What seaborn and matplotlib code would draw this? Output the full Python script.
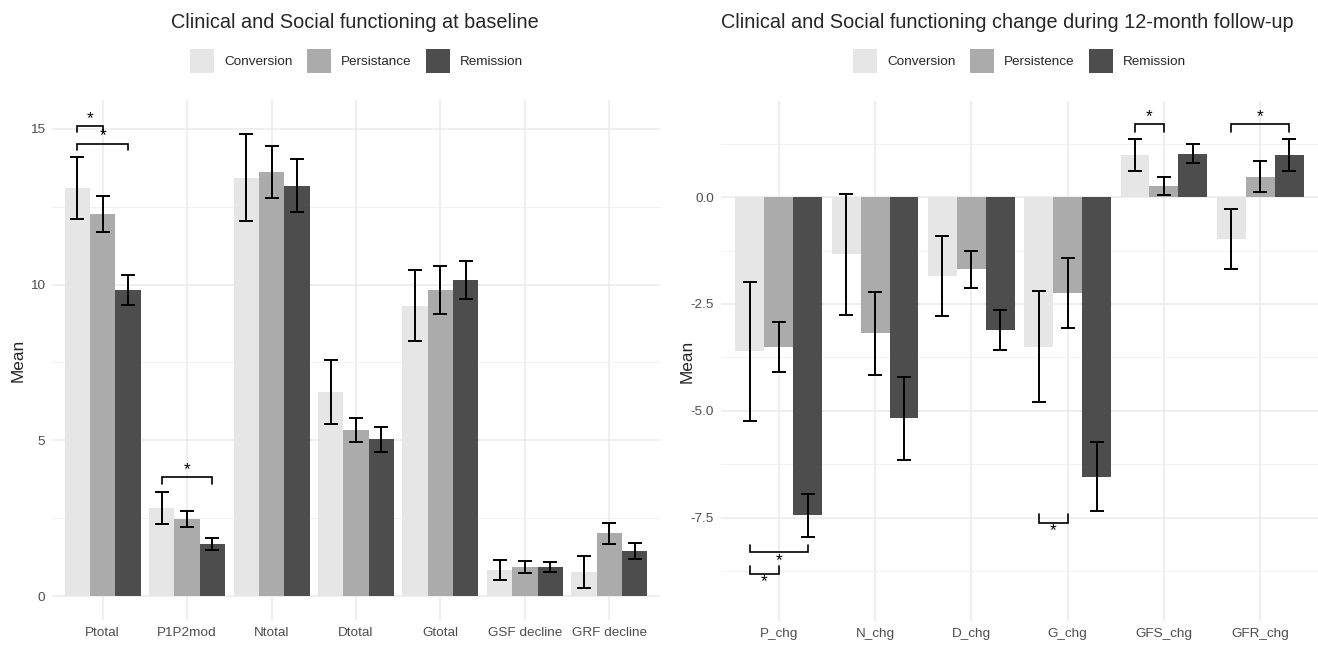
import pandas as pd
import matplotlib
matplotlib.use("Agg")
import matplotlib.pyplot as plt
from matplotlib.patches import Patch
import seaborn as sns

# baseline panel
base_cats = ["Ptotal", "P1P2mod", "Ntotal", "Dtotal", "Gtotal", "GSF decline", "GRF decline"]
base_groups = ["Conversion", "Persistance", "Remission"]
base_conv = [13.1, 2.83, 13.43, 6.54, 9.33, 0.85, 0.77]
base_conv_err = [1.0, 0.52, 1.4, 1.03, 1.15, 0.32, 0.52]
base_pers = [12.28, 2.48, 13.61, 5.33, 9.83, 0.93, 2.01]
base_pers_err = [0.58, 0.26, 0.84, 0.39, 0.77, 0.18, 0.33]
base_rem = [9.84, 1.67, 13.17, 5.04, 10.15, 0.93, 1.45]
base_rem_err = [0.48, 0.2, 0.85, 0.4, 0.62, 0.16, 0.26]
# (category, group a, group b, bracket y, tip length)
base_sig = [(0, 0, 1, 15.1, -0.2), (0, 0, 2, 14.53, -0.22), (1, 0, 2, 3.82, -0.22)]

# change panel
chg_cats = ["P_chg", "N_chg", "D_chg", "G_chg", "GFS_chg", "GFR_chg"]
chg_groups = ["Conversion", "Persistence", "Remission"]
chg_conv = [-3.61, -1.34, -1.84, -3.5, 0.99, -0.98]
chg_conv_err = [1.62, 1.41, 0.94, 1.3, 0.38, 0.7]
chg_pers = [-3.51, -3.19, -1.69, -2.25, 0.25, 0.48]
chg_pers_err = [0.59, 0.97, 0.44, 0.82, 0.21, 0.36]
chg_rem = [-7.45, -5.18, -3.11, -6.54, 1.02, 0.99]
chg_rem_err = [0.5, 0.98, 0.46, 0.8, 0.22, 0.37]
chg_sig = [(0, 0, 2, -8.31, 0.18), (0, 0, 1, -8.81, 0.18), (3, 0, 1, -7.62, 0.2),
           (4, 0, 1, 1.72, -0.2), (5, 0, 2, 1.72, -0.2)]

colors = ["#E6E6E6", "#ABABAB", "#4D4D4D"]
W, H = 1318, 646


def build_frame(cats, groups, means, errs):
    rows = []
    for g, vals, ers in zip(groups, means, errs):
        for c, v, e in zip(cats, vals, ers):
            rows.append({"var": c, "group": g, "mean": v, "err": e})
    return pd.DataFrame(rows)


def draw_panel(ax, df, cats, groups, sig, ylim, yticks, yticklabels, minor):
    sns.barplot(data=df, x="var", y="mean", hue="group", order=cats, hue_order=groups,
                palette=colors, errorbar=None, width=0.9, gap=0, saturation=1,
                linewidth=0, ax=ax, legend=False)

    # error bars on the bar centres
    bar_conts = list(ax.containers)
    centers = {}
    for gi, cont in enumerate(bar_conts):
        sub = df[df["group"] == groups[gi]].set_index("var").loc[cats]
        xs = [b.get_x() + b.get_width() / 2 for b in cont]
        for ci, x in enumerate(xs):
            centers[(ci, gi)] = x
        ax.errorbar(xs, sub["mean"].values, yerr=sub["err"].values, fmt="none",
                    ecolor="black", elinewidth=1.4, capsize=5.3, capthick=1.4, zorder=5)

    # significance brackets
    for ci, a, b, y, tip in sig:
        x1, x2 = centers[(ci, a)], centers[(ci, b)]
        ax.plot([x1, x1, x2, x2], [y + tip, y, y, y + tip], color="black", lw=1.2,
                solid_joinstyle="miter", zorder=6)
        va = "bottom" if tip < 0 else "top"
        off = 0.0 if tip < 0 else -0.02
        ax.text((x1 + x2) / 2, y + off, "*", ha="center", va=va, fontsize=12.5,
                color="black", zorder=6)

    ax.set_xlim(-0.6, len(cats) - 0.4)
    ax.set_ylim(*ylim)
    ax.set_yticks(yticks)
    ax.set_yticklabels(yticklabels)
    ax.set_yticks(minor, minor=True)
    ax.set_xlabel("")
    ax.set_ylabel("Mean", fontsize=12.4)
    ax.yaxis.set_label_coords(-0.044, 0.5)
    ax.set_axisbelow(True)
    ax.grid(which="major", color="#EBEBEB", lw=1.1)
    ax.grid(which="minor", axis="y", color="#F2F2F2", lw=0.7)
    ax.tick_params(which="both", length=0, labelsize=9.7, labelcolor="#4D4D4D", pad=5)
    for s in ax.spines.values():
        s.set_visible(False)


sns.set_theme(style="white")
plt.rcParams["font.family"] = ["Liberation Sans", "DejaVu Sans"]

fig = plt.figure(figsize=(W / 100, H / 100), dpi=100)
ax1 = fig.add_axes([52 / W, 1 - 620 / H, 608 / W, 520 / H])
ax2 = fig.add_axes([721 / W, 1 - 621 / H, 597 / W, 520 / H])

df1 = build_frame(base_cats, base_groups, [base_conv, base_pers, base_rem],
                  [base_conv_err, base_pers_err, base_rem_err])
df2 = build_frame(chg_cats, chg_groups, [chg_conv, chg_pers, chg_rem],
                  [chg_conv_err, chg_pers_err, chg_rem_err])

draw_panel(ax1, df1, base_cats, base_groups, base_sig, (-0.77, 15.93),
           [0, 5, 10, 15], ["0", "5", "10", "15"], [2.5, 7.5, 12.5])
draw_panel(ax2, df2, chg_cats, chg_groups, chg_sig, (-9.92, 2.25),
           [-7.5, -5.0, -2.5, 0.0], ["-7.5", "-5.0", "-2.5", "0.0"],
           [-8.75, -6.25, -3.75, -1.25, 1.25])

# titles and legends
fig.text(355 / W, 1 - 22 / H, "Clinical and Social functioning at baseline",
         ha="center", va="center", fontsize=14.3)
fig.text(1007 / W, 1 - 22 / H, "Clinical and Social functioning change during 12-month follow-up",
         ha="center", va="center", fontsize=14.3)

for ax, groups, cx in [(ax1, base_groups, 356.5), (ax2, chg_groups, 1019.5)]:
    handles = [Patch(facecolor=c, edgecolor="none") for c in colors]
    ax.legend(handles, groups, loc="center", bbox_to_anchor=(cx / W, 1 - 61 / H),
              bbox_transform=fig.transFigure, ncol=3, frameon=False, fontsize=9.7,
              handlelength=1.8, handleheight=2.4, handletextpad=0.75, columnspacing=1.05)

fig.savefig("out.png", dpi=100)
